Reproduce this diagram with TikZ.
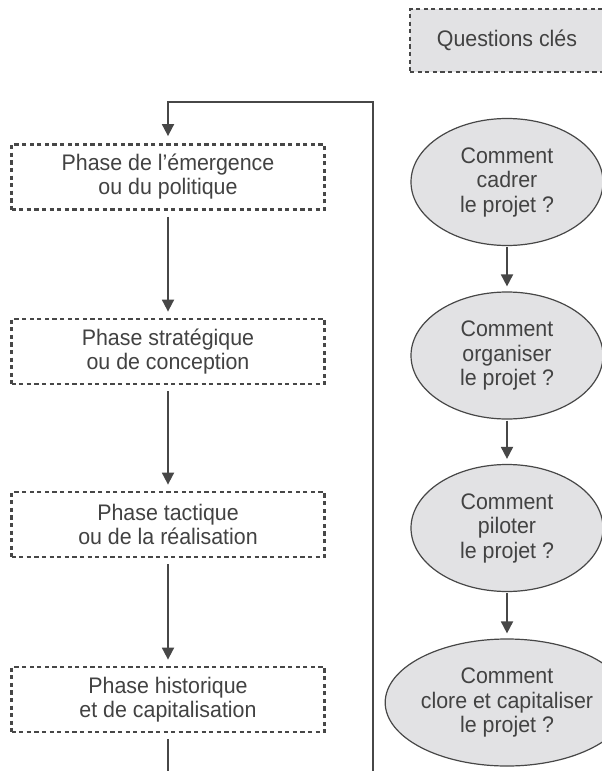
\documentclass[tikz,border=0pt]{standalone}
\usepackage{fontspec}
\setmainfont[FakeStretch=0.95]{Liberation Sans}
\usetikzlibrary{shapes.geometric,arrows.meta}
\definecolor{txt}{HTML}{424242}
\definecolor{ln}{HTML}{474747}
\definecolor{fillg}{HTML}{E2E2E4}
\tikzset{
  phasebox/.style={draw=ln, line width=2.8pt, dash pattern=on 4.2pt off 3.4pt,
    minimum width=313pt, minimum height=65pt, inner sep=0pt, align=center,
    text=txt, font=\fontsize{22.5pt}{24pt}\selectfont},
  qbox/.style={ellipse, draw=ln, line width=1.2pt, fill=fillg,
    minimum width=192pt, minimum height=127pt, inner sep=0pt, align=center,
    text=txt, font=\fontsize{22.5pt}{24.5pt}\selectfont},
  keybox/.style={draw=ln, fill=fillg, line width=2.8pt, dash pattern=on 4.2pt off 3.4pt,
    minimum width=194pt, minimum height=63pt, inner sep=0pt,
    text=txt, font=\fontsize{22.5pt}{24pt}\selectfont},
  conn/.style={draw=ln, line width=1.8pt},
  arr/.style={conn, -{Triangle[length=12pt,width=12pt]}},
}
\begin{document}
\begin{tikzpicture}[x=1pt,y=1pt]
\clip (0,0) rectangle (602,-771);
\fill[white] (0,0) rectangle (602,-771);
% left column
\node[phasebox] (b1) at (168,-177) {Phase de l’émergence\\ou du politique};
\node[phasebox] (b2) at (168,-351.5) {Phase stratégique\\ou de conception};
\node[phasebox] (b3) at (168,-524.5) {Phase tactique\\ou de la réalisation};
\node[phasebox] (b4) at (168,-699.5) {Phase historique\\et de capitalisation};
\draw[arr, shorten <=6pt, shorten >=6pt] (b1) -- (b2);
\draw[arr, shorten <=6pt, shorten >=6pt] (b2) -- (b3);
\draw[arr, shorten <=6pt, shorten >=6pt] (b3) -- (b4);
\coordinate (endL) at (168,-780);
\coordinate (endR) at (373,-780);
\coordinate (topR) at (373,-102);
\draw[conn, shorten <=6pt] (b4.south) -- (endL);
\draw[arr, shorten >=7pt] (endR) -- (topR) -| (b1.north);
% right column
\node[keybox] (k) at (507,-40.5) {Questions clés};
\node[qbox] (q1) at (507,-182) {Comment\\cadrer\\le projet ?};
\node[qbox] (q2) at (507,-355.5) {Comment\\organiser\\le projet ?};
\node[qbox] (q3) at (507,-528) {Comment\\piloter\\le projet ?};
\node[qbox] (q4) at (507,-702.5) {Comment\\clore et capitaliser\\le projet ?};
\draw[arr, shorten <=1pt, shorten >=5pt] (q1) -- (q2);
\draw[arr, shorten <=1pt, shorten >=5pt] (q2) -- (q3);
\draw[arr, shorten <=1pt, shorten >=5pt] (q3) -- (q4);
\end{tikzpicture}
\end{document}
